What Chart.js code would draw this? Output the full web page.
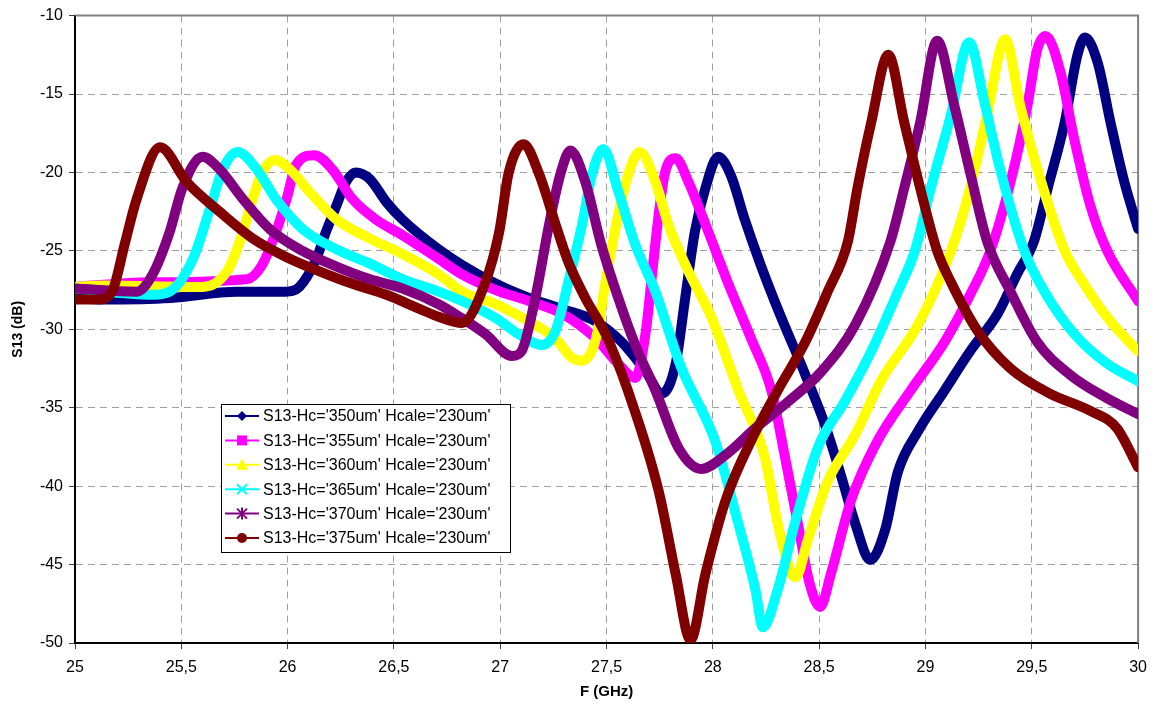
<!DOCTYPE html>
<html>
<head>
<meta charset="utf-8">
<script src="https://cdn.jsdelivr.net/npm/chart.js@4.4.1/dist/chart.umd.min.js"></script>
<style>
  body { margin: 0; background: #fff; }
  #wrap { width: 1156px; height: 706px; }
</style>
</head>
<body>
<div id="wrap"><canvas id="s13Chart" width="1156" height="706"></canvas></div>
<script>
// Frequencies (GHz) and S13 (dB), one pair of arrays per curve
const f350 = [25.0, 25.13, 25.45, 25.76, 25.99, 26.055, 26.135, 26.18, 26.23, 26.275, 26.32, 26.385, 26.465, 26.54, 26.71, 26.82, 26.98, 27.135, 27.29, 27.45, 27.57, 27.685, 27.76, 27.825, 27.87, 27.915, 27.965, 28.025, 28.085, 28.15, 28.225, 28.305, 28.435, 28.525, 28.6, 28.67, 28.74, 28.81, 28.87, 28.965, 29.09, 29.21, 29.34, 29.43, 29.51, 29.575, 29.655, 29.715, 29.75, 29.81, 29.87, 29.935, 30.0];
const s350 = [-28.0, -28.1, -28.0, -27.6, -27.6, -27.3, -25.5, -23.8, -22.1, -20.6, -20.0, -20.4, -21.9, -23.0, -24.9, -25.9, -27.1, -28.0, -28.7, -29.5, -30.8, -32.7, -34.1, -32.2, -28.0, -23.8, -21.0, -19.0, -20.2, -23.0, -25.9, -28.7, -32.9, -36.0, -39.2, -42.4, -44.7, -42.8, -39.1, -36.5, -33.9, -31.4, -29.0, -26.5, -24.4, -21.0, -16.8, -12.5, -11.4, -13.0, -16.8, -20.6, -23.6];

const f355 = [25.0, 25.35, 25.81, 25.88, 25.945, 25.995, 26.04, 26.125, 26.21, 26.305, 26.415, 26.54, 26.71, 26.82, 26.98, 27.135, 27.29, 27.45, 27.555, 27.635, 27.685, 27.71, 27.745, 27.775, 27.825, 27.885, 27.965, 28.07, 28.18, 28.275, 28.34, 28.4, 28.455, 28.505, 28.555, 28.65, 28.775, 28.93, 29.09, 29.21, 29.305, 29.4, 29.48, 29.525, 29.565, 29.635, 29.7, 29.775, 29.855, 30.0];
const s355 = [-27.3, -27.0, -26.8, -25.9, -23.8, -21.7, -19.5, -18.9, -19.8, -21.7, -23.0, -24.0, -25.5, -26.5, -27.5, -28.2, -29.0, -30.6, -32.2, -33.1, -30.1, -27.0, -22.7, -20.0, -19.1, -20.6, -23.3, -27.0, -30.6, -33.9, -38.2, -42.4, -46.2, -47.7, -45.6, -40.9, -37.1, -33.9, -30.8, -27.8, -25.0, -20.6, -15.7, -12.2, -11.3, -13.6, -17.9, -22.1, -25.0, -28.2];

const f360 = [25.0, 25.13, 25.6, 25.715, 25.775, 25.835, 25.88, 25.94, 26.01, 26.1, 26.23, 26.385, 26.54, 26.71, 26.82, 26.98, 27.135, 27.26, 27.335, 27.385, 27.45, 27.495, 27.555, 27.605, 27.655, 27.73, 27.79, 27.885, 27.995, 28.12, 28.245, 28.305, 28.37, 28.39, 28.445, 28.54, 28.67, 28.79, 28.965, 29.12, 29.21, 29.29, 29.375, 29.445, 29.54, 29.655, 29.745, 29.87, 30.0];
const s360 = [-27.3, -27.2, -27.3, -26.3, -24.4, -21.7, -20.0, -19.2, -19.8, -21.2, -23.0, -24.2, -25.2, -26.5, -27.6, -28.4, -29.5, -30.6, -31.8, -32.0, -30.6, -27.0, -22.7, -20.0, -18.7, -20.6, -23.3, -26.3, -29.3, -33.9, -38.2, -42.4, -45.6, -45.8, -43.5, -39.7, -36.7, -33.3, -29.7, -25.0, -21.0, -16.3, -11.5, -15.7, -20.4, -25.0, -27.1, -29.5, -31.4];

const f365 = [25.0, 25.365, 25.445, 25.555, 25.635, 25.695, 25.765, 25.855, 25.945, 26.07, 26.23, 26.385, 26.54, 26.71, 26.82, 26.98, 27.085, 27.195, 27.26, 27.32, 27.385, 27.43, 27.485, 27.555, 27.635, 27.73, 27.85, 28.01, 28.12, 28.2, 28.235, 28.305, 28.385, 28.495, 28.62, 28.745, 28.87, 28.95, 29.025, 29.12, 29.205, 29.28, 29.355, 29.465, 29.56, 29.7, 29.855, 30.0];
const s365 = [-27.4, -27.8, -27.6, -25.5, -22.3, -19.8, -18.7, -19.8, -21.7, -23.6, -24.9, -25.8, -26.8, -27.6, -28.2, -29.3, -30.3, -31.0, -30.1, -27.0, -23.3, -20.2, -18.5, -21.2, -24.6, -27.6, -32.4, -37.1, -42.4, -46.6, -49.0, -46.6, -42.4, -37.5, -34.6, -31.4, -27.6, -25.0, -21.0, -16.3, -11.7, -15.7, -20.0, -25.0, -27.6, -30.3, -32.2, -33.3];

const f370 = [25.0, 25.29, 25.365, 25.445, 25.505, 25.6, 25.68, 25.79, 25.915, 26.07, 26.23, 26.385, 26.54, 26.71, 26.82, 26.93, 27.055, 27.1, 27.165, 27.23, 27.285, 27.33, 27.4, 27.475, 27.555, 27.635, 27.73, 27.84, 27.945, 28.07, 28.2, 28.355, 28.51, 28.67, 28.835, 28.9, 28.975, 29.055, 29.135, 29.21, 29.29, 29.4, 29.525, 29.68, 29.855, 30.0];
const s370 = [-27.4, -27.6, -26.5, -23.8, -21.0, -19.0, -19.8, -21.7, -23.6, -25.0, -26.0, -26.8, -27.4, -28.4, -29.3, -30.3, -31.7, -31.4, -28.0, -23.3, -20.0, -18.6, -20.6, -24.6, -28.0, -31.0, -33.9, -37.6, -38.9, -37.9, -36.3, -34.6, -32.7, -29.7, -24.4, -21.0, -16.8, -11.6, -15.7, -20.0, -24.4, -27.6, -30.8, -32.9, -34.4, -35.4];

const f375 = [25.0, 25.115, 25.18, 25.235, 25.29, 25.4, 25.525, 25.68, 25.835, 25.995, 26.15, 26.305, 26.465, 26.62, 26.71, 26.82, 26.93, 26.995, 27.04, 27.11, 27.18, 27.26, 27.32, 27.4, 27.495, 27.6, 27.745, 27.825, 27.895, 27.965, 28.06, 28.18, 28.305, 28.435, 28.54, 28.635, 28.68, 28.745, 28.825, 28.9, 28.975, 29.055, 29.12, 29.245, 29.4, 29.585, 29.775, 29.9, 30.0];
const s375 = [-28.1, -28.1, -27.4, -24.5, -21.7, -18.4, -20.6, -22.5, -24.2, -25.4, -26.3, -27.1, -27.8, -28.7, -29.2, -29.6, -27.0, -23.8, -20.0, -18.2, -20.0, -23.3, -25.7, -28.0, -30.3, -33.9, -40.3, -45.6, -49.8, -45.6, -40.9, -37.1, -33.9, -30.8, -27.6, -24.4, -21.0, -16.8, -12.5, -16.8, -21.0, -25.0, -27.0, -30.1, -32.5, -34.1, -35.2, -36.3, -38.8];

const seriesLabels = [
    "S13-Hc='350um' Hcale='230um'",
    "S13-Hc='355um' Hcale='230um'",
    "S13-Hc='360um' Hcale='230um'",
    "S13-Hc='365um' Hcale='230um'",
    "S13-Hc='370um' Hcale='230um'",
    "S13-Hc='375um' Hcale='230um'"
];
const xTicks = [25, 25.5, 26, 26.5, 27, 27.5, 28, 28.5, 29, 29.5, 30];
const yTicks = [-50, -45, -40, -35, -30, -25, -20, -15, -10];

const freqs = [f350, f355, f360, f365, f370, f375];
const values = [s350, s355, s360, s365, s370, s375];
const colors = ['#000080', '#ff00ff', '#ffff00', '#00ffff', '#800080', '#800000'];
const markers = ['diamond', 'square', 'triangle', 'x', 'star', 'circle'];

const FONT = 'Arial, "Liberation Sans", sans-serif';
Chart.defaults.font.family = FONT;
Chart.defaults.font.size = 16;
Chart.defaults.color = '#000';

const datasets = values.map((ys, i) => ({
    label: seriesLabels[i],
    data: ys.map((y, j) => ({ x: freqs[i][j], y: y })),
    borderColor: colors[i],
    backgroundColor: colors[i],
    borderWidth: 10,
    pointRadius: 0,
    cubicInterpolationMode: 'monotone',
    borderCapStyle: 'round',
    borderJoinStyle: 'round',
    fill: false,
    order: values.length - i // later series drawn on top
}));

function drawMarker(ctx, style, x, y, color) {
    ctx.save();
    ctx.fillStyle = color;
    ctx.strokeStyle = color;
    ctx.lineWidth = 2;
    ctx.beginPath();
    if (style === 'diamond') {
        ctx.moveTo(x, y - 5); ctx.lineTo(x + 5, y); ctx.lineTo(x, y + 5); ctx.lineTo(x - 5, y);
        ctx.closePath(); ctx.fill();
    } else if (style === 'square') {
        ctx.fillRect(x - 5, y - 5, 10, 10);
    } else if (style === 'triangle') {
        ctx.moveTo(x, y - 6); ctx.lineTo(x + 6, y + 5); ctx.lineTo(x - 6, y + 5);
        ctx.closePath(); ctx.fill();
    } else if (style === 'x') {
        ctx.moveTo(x - 5, y - 5); ctx.lineTo(x + 5, y + 5);
        ctx.moveTo(x + 5, y - 5); ctx.lineTo(x - 5, y + 5);
        ctx.stroke();
    } else if (style === 'star') {
        ctx.moveTo(x - 5, y - 5); ctx.lineTo(x + 5, y + 5);
        ctx.moveTo(x + 5, y - 5); ctx.lineTo(x - 5, y + 5);
        ctx.moveTo(x, y - 6); ctx.lineTo(x, y + 6);
        ctx.stroke();
    } else {
        ctx.arc(x, y, 5, 0, Math.PI * 2);
        ctx.fill();
    }
    ctx.restore();
}

// grey frame on top and right of the plot area
const frame = {
    id: 'frame',
    beforeDatasetsDraw(chart) {
        const { ctx, chartArea: a } = chart;
        ctx.save();
        ctx.strokeStyle = '#808080';
        ctx.lineWidth = 2;
        ctx.beginPath();
        ctx.moveTo(a.left, a.top);
        ctx.lineTo(a.right, a.top);
        ctx.lineTo(a.right, a.bottom);
        ctx.stroke();
        ctx.restore();
    }
};

// Excel-style legend box with line + marker
const boxLegend = {
    id: 'boxLegend',
    afterDraw(chart) {
        const ctx = chart.ctx;
        const left = 221, top = 404, w = 289, h = 148;
        ctx.save();
        ctx.fillStyle = '#fff';
        ctx.fillRect(left, top, w, h);
        ctx.strokeStyle = '#000';
        ctx.lineWidth = 1;
        ctx.strokeRect(left + 0.5, top + 0.5, w, h);
        ctx.font = '16px ' + FONT;
        ctx.textBaseline = 'middle';
        seriesLabels.forEach((lab, i) => {
            const y = top + 12 + i * 24.4;
            ctx.strokeStyle = colors[i];
            ctx.lineWidth = 2;
            ctx.beginPath();
            ctx.moveTo(left + 4, y);
            ctx.lineTo(left + 38, y);
            ctx.stroke();
            drawMarker(ctx, markers[i], left + 21, y, colors[i]);
            ctx.fillStyle = '#000';
            ctx.fillText(lab, left + 42, y + 1);
        });
        ctx.restore();
    }
};

const ctx = document.getElementById('s13Chart').getContext('2d');
const s13Chart = new Chart(ctx, {
    type: 'line',
    data: { datasets: datasets },
    options: {
        responsive: false,
        animation: false,
        layout: { padding: { top: 13, right: 15, left: 0, bottom: 0 } },
        plugins: {
            legend: { display: false },
            tooltip: { enabled: false }
        },
        scales: {
            x: {
                type: 'linear',
                min: 25,
                max: 30,
                afterFit: s => { s.height = 63; },
                afterBuildTicks: s => { s.ticks = xTicks.map(v => ({ value: v })); },
                ticks: {
                    padding: 9,
                    maxRotation: 0,
                    callback: v => String(v).replace('.', ',')
                },
                grid: { color: '#a0a0a0', lineWidth: 1, tickLength: 6, tickColor: '#404040', tickBorderDash: [] },
                border: { color: '#000', width: 2, dash: [7, 5] },
                title: { display: true, text: 'F (GHz)', font: { size: 15, weight: 'bold' }, padding: { top: 0, bottom: 5 } }
            },
            y: {
                min: -50,
                max: -10,
                afterFit: s => { s.width = 75; },
                afterBuildTicks: s => { s.ticks = yTicks.map(v => ({ value: v })); },
                ticks: { padding: 6 },
                grid: { color: '#a0a0a0', lineWidth: 1, tickLength: 6, tickColor: '#404040', tickBorderDash: [] },
                border: { color: '#000', width: 2, dash: [7, 5] },
                title: { display: true, text: 'S13 (dB)', font: { size: 14, weight: 'bold' }, padding: { top: 10, bottom: 0 } }
            }
        }
    },
    plugins: [frame, boxLegend]
});
</script>
</body>
</html>
